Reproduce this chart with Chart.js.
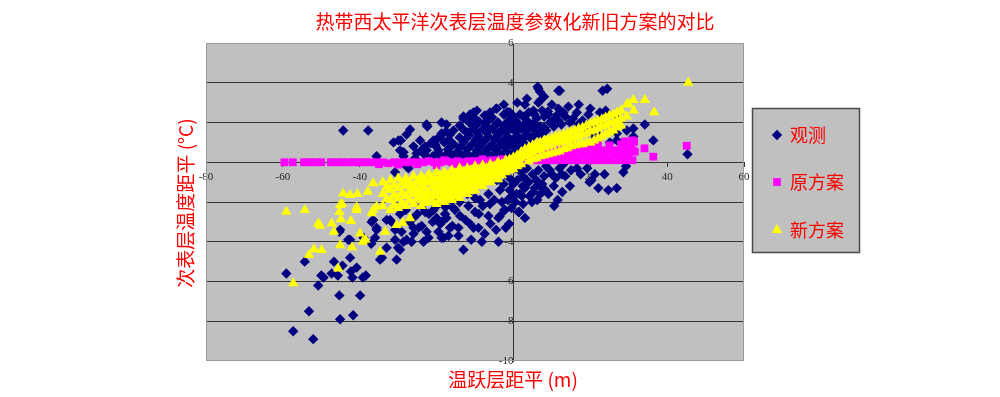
<!DOCTYPE html>
<html>
<head>
<meta charset="utf-8">
<script src="https://cdn.jsdelivr.net/npm/chart.js@4.4.0/dist/chart.umd.min.js"></script>
<style>
  html, body { margin: 0; padding: 0; background: #fff; }
  #wrap { width: 1000px; height: 397px; }
</style>
</head>
<body>
<div id="wrap"><canvas id="chart" width="1000" height="397"></canvas></div>
<script>
const chartTitle = '热带西太平洋次表层温度参数化新旧方案的对比';
const xTitle = '温跃层距平 (m)';
const yTitle = '次表层温度距平 (°C)';
const seriesNames = ['观测', '原方案', '新方案'];
const xTickValues = [-80, -60, -40, -20, 0, 20, 40, 60];
const yTickValues = [-10, -8, -6, -4, -2, 0, 2, 4, 6];

const obsPoints = [
  [-59.1,-5.6],[-57.3,-8.5],[-52.1,-8.9],[-53.2,-7.5],[-54.3,-5.0],[-50.8,-6.2],[-50.0,-5.7],[-49.4,-5.8],
  [-45.1,-7.9],[-45.3,-6.7],[-41.7,-7.7],[-39.9,-6.7],[-46.7,-5.0],[-47.3,-5.6],[-45.7,-5.7],[-44.5,-5.2],
  [-42.5,-4.8],[-42.3,-5.5],[-41.9,-5.8],[-40.8,-5.3],[-39.2,-5.8],[-38.4,-5.7],[-45.3,-3.5],[-43.0,-3.9],
  [-37.0,-4.1],[-36.0,-3.8],[-34.7,-4.9],[-34.2,-4.8],[-33.0,-4.3],[-30.4,-4.9],[-32.1,-2.9],[-36.9,-3.0],
  [-35.6,-3.4],[-30.8,-3.9],[-29.5,-4.4],[-28.6,-4.0],[-26.5,-4.0],[-26.0,-3.6],[-22.6,-3.5],[-23.9,-3.2],
  [-18.7,-3.8],[-13.0,-4.4],[-8.2,-4.0],[-3.9,-4.0],[-16.9,-3.7],[-14.3,-3.3],[-10.4,-3.3],[-13.9,-2.7],
  [-10.0,-2.5],[-6.5,-2.7],[-3.5,-2.7],[-1.1,-3.1],[1.3,-2.5],[3.0,-2.8],[4.8,-2.0],[9.1,-1.6],[6.9,-1.2],
  [-36.5,-2.9],[-35.6,-3.3],[-31.7,-3.0],[-30.8,-3.4],[-29.5,-2.6],[-26.0,-2.8],[-24.7,-3.3],[-27.8,-3.9],
  [-23.0,-2.5],[-20.0,-2.8],[-17.8,-2.6],[-18.2,-3.8],[-15.6,-2.3],[-19.1,-1.9],[-45.1,-3.4],[-42.5,-3.9],
  [-39.0,-3.8],[-35.6,0.3],[-27.8,-0.2],[-28.6,0.5],[-25.6,0.2],
  [-27.3,-0.3],[-30.8,-0.5],[-20.8,-2.4],[-18.7,-3.0],[-16.5,-3.3],[-11.3,-3.1],[-9.1,-3.3],[-6.1,-2.1],
  [-3.9,-2.8],[-2.2,-2.4],[1.7,-1.6],[5.2,-1.5],[3.5,-0.9],[0.0,-1.1],[-3.5,-1.4],[-6.5,-1.6],[-8.7,-1.9],
  [-11.7,-2.2],[-15.2,-2.4],[-17.4,-2.2],[-2.2,-0.6],[-4.3,-0.9],[-33.0,-2.9],[-30.0,-4.3],[-29.1,-3.5],
  [-26.0,-3.3],[-23.4,-4.0],[-22.1,-3.8],[-19.5,-3.5],[-15.9,-3.2],[-14.3,-3.7],[-17.4,-2.8],
  [16.5,-0.3],[19.2,-0.3],[21.2,-0.6],[23.7,-0.6],[19.8,-1.0],[20.3,-0.9],[22.1,-1.3],[24.7,-1.4],
  [26.9,-1.3],[28.6,-0.5],[29.3,-0.2],[14.7,-1.2],[12.7,-1.5],[10.6,-2.2],[6.7,-1.1],[6.2,-1.9],[1.5,-2.5],
  [-2.4,-2.4],[2.2,-1.7],[-0.4,-1.7],[2.4,-1.2],[10.0,-0.6],[12.6,-0.6],[13.0,-0.1],
  [0.5,-0.3],[2.0,-0.5],[3.5,-0.3],[5.0,-0.6],[6.5,-0.4],[8.0,-0.7],[9.5,-0.4],[11.0,-0.8],[12.0,-0.3],
  [1.0,-0.9],[4.0,-1.0],[7.5,-1.1],[10.5,-1.2],[3.0,-1.3],[6.0,-0.9],[13.5,-0.7],[15.0,-0.4],[8.5,-0.2],
  [2.5,-0.7],[5.5,-1.3],[-1.0,-0.8],[-2.5,-1.1],[0.8,-1.6],[-1.5,-1.9],[2.5,-2.1],[-0.5,-2.3],[7.0,-1.6],
  [11.5,-1.9],[17.5,-0.6],[4.2,-1.7],[8.3,-1.4],
  [-12.0,-1.6],[-10.0,-1.8],[-8.0,-2.2],[-5.0,-1.9],[-3.0,-2.0],[-1.0,-1.4],[-14.0,-2.0],[-16.0,-1.9],
  [-18.0,-2.2],[-20.0,-2.2],[-22.0,-2.6],[-24.0,-2.2],[-12.5,-2.9],[-9.0,-2.6],[-6.0,-3.1],[-4.5,-3.4],
  [-7.5,-3.6],[-11.0,-3.9],[-2.0,-3.3],[0.5,-2.0],[-19.0,-3.1],[-21.0,-3.0],[-25.0,-2.6],[-27.0,-3.0],[-28.0,-2.4],
  [-22.6,1.9],[-18.7,2.0],[-13.0,2.3],[-10.4,2.5],[-4.3,2.7],[-1.6,2.5],[1.7,2.4],[6.5,3.0],[6.9,3.55],
  [-7.4,2.0],[-16.5,1.4],[-20.8,1.1],[-23.0,0.8],[-23.4,0.5],
  [-29.9,1.1],[-27.8,1.4],[-26.0,0.8],[-24.3,1.1],[-22.6,0.6],[-20.4,0.9],[-18.7,1.45],[-17.4,1.9],
  [-15.6,1.6],[-13.0,2.2],[-11.3,2.4],[-9.5,2.6],[-6.1,2.5],[-0.9,2.5],[3.0,2.9],[6.5,3.7],[11.7,3.6],
  [-31.2,1.0],[-29.5,0.6],[-28.6,0.3],[-25.2,0.45],[-44.3,1.6],[-37.8,1.6],[-26.9,1.65],[-22.4,1.8],[-29.3,1.1],
  [6.3,3.8],[12.1,3.6],[23.2,3.6],[24.4,3.7],[6.9,3.1],[14.3,2.8],[16.5,2.5],[22.5,2.5],[26.9,2.3],
  [-1.7,2.5],[5.2,2.6],[9.1,2.4],[11.7,2.1],[14.7,2.0],[18.2,1.7],[20.4,1.45],[22.5,1.3],[26.9,1.45],
  [29.5,1.6],[34.2,1.9],[31.2,1.3],[36.4,1.1],[25.1,1.0],[26.9,1.1],[31.2,1.7],[45.3,0.4],[-4.5,2.7],
  [-1.3,2.5],[11.7,2.7],[16.9,1.9],
  [-21.0,0.3],[-18.5,0.25],[-16.0,0.35],[-13.5,0.3],[-11.0,0.25],[-8.5,0.35],[-6.0,0.3],[-3.5,0.35],[-1.0,0.4],
  [-24.0,0.6],[-19.5,0.6],[-17.0,0.65],[-14.5,0.55],[-12.0,0.65],[-9.5,0.6],[-7.0,0.65],[-4.5,0.6],[-2.0,0.7],
  [0.5,0.7],[3.0,0.9],
  [-21.5,0.95],[-18.0,1.0],[-15.5,0.9],[-13.0,1.0],[-10.5,0.95],[-8.0,1.0],[-5.5,0.9],[-3.0,1.0],[-0.5,1.0],
  [2.0,1.05],[4.5,1.2],[7.0,1.4],
  [-19.0,1.3],[-14.0,1.25],[-11.5,1.35],[-9.0,1.3],[-6.5,1.3],[-4.0,1.35],[-1.5,1.3],[1.0,1.35],[3.5,1.4],
  [6.0,1.5],[8.5,1.6],[10.5,1.8],
  [-13.0,1.65],[-10.5,1.7],[-8.0,1.65],[-5.5,1.7],[-3.0,1.65],[-0.5,1.7],[2.0,1.7],[4.5,1.75],[7.0,1.8],
  [9.5,2.0],[12.5,1.9],
  [-11.5,2.0],[-9.0,2.05],[-6.5,2.1],[-4.0,2.0],[-1.5,2.05],[1.0,2.0],[3.5,2.1],[6.0,2.2],[8.0,2.3],[13.5,2.3],
  [-7.5,2.35],[-2.5,2.4],[0.0,2.3],[4.0,2.5],[7.5,2.6],[10.0,2.9],
  [13.0,2.5],[15.5,2.2],[18.0,2.1],[19.5,2.4],[21.0,1.9],[17.0,2.9],[20.0,2.7],[24.0,2.6],[8.0,3.3],
  [3.5,3.2],[-2.5,2.9],[1.0,3.0],
  [-19.8,0.45],[-17.2,0.45],[-14.8,0.4],[-12.3,0.45],[-9.8,0.45],[-7.3,0.5],[-4.8,0.45],[-2.3,0.5],[0.2,0.55],[-23.0,0.35],
  [-20.2,0.8],[-16.3,0.8],[-13.8,0.75],[-11.2,0.8],[-8.8,0.8],[-6.2,0.75],[-3.7,0.8],[-1.2,0.85],[1.3,0.9],
  [-20.0,1.15],[-16.8,1.15],[-12.5,1.15],[-9.8,1.15],[-7.3,1.1],[-4.8,1.15],[-2.3,1.15],[0.2,1.2],[2.8,1.25],[5.3,1.35],
  [-17.5,1.55],[-12.0,1.5],[-9.5,1.5],[-7.0,1.5],[-4.5,1.5],[-2.0,1.5],[0.5,1.55],[3.0,1.55],[5.5,1.65],[8.0,1.75],
  [-14.0,1.85],[-9.8,1.85],[-7.3,1.85],[-4.8,1.85],[-2.3,1.85],[0.2,1.85],[2.8,1.9],[5.3,1.95],[10.5,2.15],
  [-10.0,2.2],[-5.5,2.25],[-0.5,2.15],[2.5,2.3],[5.5,2.4],[9.0,2.55],[11.5,2.4]
];

// old parameterisation
const oldPoints = [
  [-59.6,0.0],[-57.4,0.0],[-54.5,0.0],[-53.0,0.0],[-51.5,0.0],[-50.0,0.0],[-47.5,0.0],[-46.0,0.0],
  [-44.5,0.0],[-43.0,0.0],[-41.5,0.0],[-40.0,0.0],[-38.5,0.0],[-37.0,0.0],[-35.5,0.0],[-34.0,0.0],
  [-32.5,-0.05],[-31.0,0.0],[-29.5,0.0],[-28.0,0.0],[-26.5,0.0],[-25.0,0.0],[-23.5,0.0],[-22.0,0.05],
  [-20.5,0.0],[-19.0,0.0],[-17.5,0.05],[-16.0,0.0],[-14.5,0.05],[-13.0,0.0],[-11.5,0.05],[-10.0,0.05],
  [-8.5,0.05],[-7.0,0.05],[-5.5,0.1],[-4.0,0.1],[-2.5,0.1],[-1.0,0.1],
  [-35.0,-0.1],[-30.0,-0.12],[-25.0,-0.1],[-20.0,-0.15],[-15.0,-0.1],[-10.0,-0.1],[-5.0,-0.05],
  [-18.0,0.1],[-8.0,0.15],[-3.0,0.15],
  [1,0.1],[3,0.1],[5,0.1],[7,0.1],[9,0.1],[11,0.1],[13,0.1],[15,0.1],[17,0.1],[19,0.1],[21,0.1],
  [23,0.1],[25,0.1],[27,0.1],[29,0.1],[31,0.1],
  [4,0.3],[6,0.35],[8,0.35],[10,0.4],[12,0.35],[14,0.4],[16,0.35],[18,0.4],[20,0.35],[22,0.4],
  [24,0.35],[26,0.4],[28,0.35],[30,0.4],
  [9,0.55],[11,0.6],[13,0.65],[15,0.6],[17,0.7],[19,0.6],[21,0.65],[23,0.6],[25,0.65],[27,0.6],
  [29,0.7],[31,0.6],
  [16,0.8],[19,0.85],[22,0.9],[25,0.85],[28,0.9],[30.5,0.85],[29,1.05],[31,1.1],
  [34.1,0.7],[36.4,0.28],[45.1,0.83],[31.4,1.03],[31.6,0.53],[29.9,0.36]
];

// new parameterisation
const newPoints = [
  [-34,-1.0],[-34,-1.6],[-34,-2.2],
  [-33,-1.25],[-33,-1.85],
  [-32,-0.9],[-32,-1.4],[-32,-1.9],[-32,-2.4],
  [-31,-1.15],[-31,-1.65],[-31,-2.15],
  [-30,-0.8],[-30,-1.3],[-30,-1.8],[-30,-2.3],
  [-29,-1.05],[-29,-1.55],[-29,-2.05],
  [-28,-0.8],[-28,-1.2],[-28,-1.7],[-28,-2.2],
  [-27,-1.0],[-27,-1.45],[-27,-1.9],
  [-26,-0.7],[-26,-1.2],[-26,-1.6],[-26,-2.1],
  [-25,-0.95],[-25,-1.4],[-25,-1.8],
  [-24,-0.7],[-24,-1.1],[-24,-1.5],[-24,-1.9],[-24,-2.2],
  [-23,-0.9],[-23,-1.3],[-23,-1.7],[-23,-2.05],
  [-22,-0.6],[-22,-1.0],[-22,-1.5],[-22,-1.9],
  [-21,-0.8],[-21,-1.2],[-21,-1.6],[-21,-2.0],
  [-20,-0.5],[-20,-0.9],[-20,-1.3],[-20,-1.7],[-20,-2.1],
  [-19,-0.7],[-19,-1.1],[-19,-1.5],[-19,-1.9],
  [-18,-0.5],[-18,-0.9],[-18,-1.3],[-18,-1.7],[-18,-2.0],
  [-17,-0.65],[-17,-1.05],[-17,-1.45],[-17,-1.8],
  [-16,-0.4],[-16,-0.8],[-16,-1.2],[-16,-1.6],[-16,-1.9],
  [-15,-0.55],[-15,-0.95],[-15,-1.35],[-15,-1.7],
  [-14,-0.3],[-14,-0.7],[-14,-1.1],[-14,-1.5],[-14,-1.8],
  [-13,-0.5],[-13,-0.9],[-13,-1.25],[-13,-1.6],
  [-12,-0.3],[-12,-0.6],[-12,-1.0],[-12,-1.4],[-12,-1.6],
  [-11,-0.4],[-11,-0.75],[-11,-1.1],[-11,-1.45],
  [-10,-0.2],[-10,-0.5],[-10,-0.9],[-10,-1.2],[-10,-1.4],
  [-9,-0.35],[-9,-0.7],[-9,-1.05],
  [-8,-0.15],[-8,-0.5],[-8,-0.8],[-8,-1.2],
  [-7,-0.3],[-7,-0.65],[-7,-0.95],
  [-6,-0.1],[-6,-0.4],[-6,-0.7],[-6,-1.0],
  [-5,-0.2],[-5,-0.55],[-5,-0.85],
  [-4,0.0],[-4,-0.3],[-4,-0.6],[-4,-0.85],
  [-3,-0.1],[-3,-0.4],[-3,-0.65],
  [-2,0.1],[-2,-0.2],[-2,-0.5],
  [-1,0.15],[-1,-0.1],[-1,-0.4],
  [0,0.25],[0,-0.05],[0,-0.35],
  [1,0.35],[1,0.05],[1,-0.2],
  [2,0.5],[2,0.2],[2,-0.1],
  [3,0.65],[3,0.3],
  [4,0.75],[4,0.4],[4,0.05],
  [5,0.85],[5,0.5],[5,0.15],
  [6,0.95],[6,0.6],[6,0.2],
  [7,1.0],[7,0.65],[7,0.3],
  [8,1.1],[8,0.75],[8,0.35],
  [9,1.15],[9,0.8],[9,0.4],
  [10,1.2],[10,0.85],[10,0.45],
  [11,1.3],[11,0.95],[11,0.5],
  [12,1.35],[12,1.0],[12,0.55],
  [13,1.4],[13,1.05],[13,0.65],
  [14,1.45],[14,1.1],[14,0.7],
  [15,1.55],[15,1.2],[15,0.8],
  [16,1.6],[16,1.25],[16,0.85],
  [17,1.7],[17,1.3],[17,0.9],
  [18,1.75],[18,1.4],[18,0.9],
  [19,1.85],[19,1.45],[19,1.0],
  [20,1.95],[20,1.55],[20,1.0],
  [21,2.0],[21,1.6],[21,1.1],
  [22,2.1],[22,1.7],[22,1.2],
  [23,2.15],[23,1.8],[23,1.3],
  [24,2.25],[24,1.85],[24,1.4],
  [25,2.35],[25,1.95],[25,1.5],
  [26,2.4],[26,2.0],[26,1.6],
  [27,2.5],[27,2.1],[27,1.75],
  [28,2.6],[28,2.2],[28,1.85],
  [29.5,2.9],[29.5,2.3],
  [31.2,3.13],[34.2,3.13],[36.6,2.51],[29.9,2.93],[31.3,2.6],[45.5,4.0],
  [-59.1,-2.49],[-54.3,-2.4],[-57.3,-6.09],[-53.2,-4.67],[-51.9,-4.38],[-49.9,-4.42],[-50.8,-3.08],
  [-50.3,-3.2],[-47.3,-3.08],[-46.7,-3.5],[-45.1,-4.17],[-45.6,-5.34],[-44.3,-1.57],[-42.5,-1.65],
  [-40.6,-1.6],[-45.1,-2.15],[-44.9,-2.87],[-42.3,-2.96],[-40.8,-2.27],[-42.0,-4.28],[-39.9,-3.58],
  [-39.2,-4.0],[-38.5,-3.9],[-37.9,-1.48],[-36.5,-1.06],[-36.9,-2.57],[-35.6,-2.24],[-34.7,-4.5],
  [-33.4,-3.5],[-32.3,-1.4],[-30.4,-3.16],[-28.8,-3.04],[-26.9,-2.82],[-45.3,-2.5],[-44.6,-2.1],
  [-40.8,-2.4],[-36.5,-2.4]
];

const toXY = (pts) => pts.map(([x, y]) => ({ x: x, y: y }));

const plotBg = {
  id: 'plotBg',
  beforeDraw(chart) {
    const { ctx, chartArea: a } = chart;
    ctx.save();
    ctx.fillStyle = '#c0c0c0';
    ctx.fillRect(a.left, a.top, a.right - a.left, a.bottom - a.top);
    ctx.restore();
  },
  afterDraw(chart) {
    const { ctx, chartArea: a } = chart;
    ctx.save();
    ctx.strokeStyle = '#9a9a9a';
    ctx.lineWidth = 1;
    ctx.strokeRect(a.left + 0.5, a.top + 0.5, a.right - a.left - 1, a.bottom - a.top - 1);

    ctx.fillStyle = '#ff0000';
    ctx.font = '19px "Noto Sans CJK SC"';
    ctx.textAlign = 'center';
    ctx.textBaseline = 'middle';
    ctx.fillText(chartTitle, 515, 22);
    ctx.fillText(xTitle, 513, 380);
    ctx.save();
    ctx.translate(186, 203);
    ctx.rotate(-Math.PI / 2);
    ctx.fillText(yTitle, 0, 0);
    ctx.restore();

    // legend
    ctx.fillStyle = '#c0c0c0';
    ctx.fillRect(752, 108, 108, 145);
    ctx.strokeStyle = '#4a4a4a';
    ctx.lineWidth = 1.5;
    ctx.strokeRect(752.5, 108.5, 107, 144);
    const rows = [135, 182, 230];
    ctx.textAlign = 'left';
    ctx.font = '18px "Noto Sans CJK SC"';
    chart.data.datasets.forEach((ds, i) => {
      ctx.fillStyle = ds.backgroundColor;
      Chart.helpers.drawPoint(ctx, { pointStyle: ds.pointStyle, radius: ds.pointRadius, rotation: 0, borderWidth: 0 }, 777, rows[i]);
      ctx.fillStyle = '#ff0000';
      ctx.fillText(ds.label, 790, rows[i]);
    });
    ctx.restore();
  }
};

const tickFont = { family: '"Liberation Serif"', size: 11 };

new Chart(document.getElementById('chart'), {
  type: 'scatter',
  data: {
    datasets: [
      {
        label: seriesNames[0],
        data: toXY(obsPoints),
        pointStyle: 'rectRot',
        pointRadius: 5.2,
        pointBorderWidth: 0,
        backgroundColor: '#000080',
        borderColor: '#000080',
        order: 3,
      },
      {
        label: seriesNames[1],
        data: toXY(oldPoints),
        pointStyle: 'rect',
        pointRadius: 5.5,
        pointBorderWidth: 0,
        backgroundColor: '#ff00ff',
        borderColor: '#ff00ff',
        order: 2,
      },
      {
        label: seriesNames[2],
        data: toXY(newPoints),
        pointStyle: 'triangle',
        pointRadius: 6,
        pointBorderWidth: 0,
        backgroundColor: '#ffff00',
        borderColor: '#ffff00',
        order: 1,
      },
    ],
  },
  options: {
    responsive: false,
    animation: false,
    devicePixelRatio: 1,
    layout: { padding: { left: 206, right: 256, top: 43, bottom: 36 } },
    plugins: {
      legend: { display: false },
      title: { display: false },
      tooltip: { enabled: false },
    },
    scales: {
      x: {
        type: 'linear',
        position: { y: 0 },
        min: -80,
        max: 60,
        afterBuildTicks: (scale) => { scale.ticks = xTickValues.map((v) => ({ value: v })); },
        grid: { drawOnChartArea: false, drawTicks: true, tickLength: 4, color: '#333' },
        border: { display: true, color: '#333', width: 1 },
        ticks: {
          color: '#222',
          font: tickFont,
          padding: 4,
          maxRotation: 0,
          autoSkip: false,
          callback: (v) => (v === 0 ? '' : v),
        },
      },
      y: {
        type: 'linear',
        position: { x: 0 },
        min: -10,
        max: 6,
        afterBuildTicks: (scale) => { scale.ticks = yTickValues.map((v) => ({ value: v })); },
        grid: {
          color: (c) => (c.tick && (c.tick.value === 6 || c.tick.value === -10) ? 'rgba(0,0,0,0)' : '#333'),
          tickLength: 4,
          lineWidth: 1,
        },
        border: { display: true, color: '#333', width: 1 },
        ticks: { color: '#222', font: tickFont, padding: 4, autoSkip: false },
      },
    },
  },
  plugins: [plotBg],
});
</script>
</body>
</html>
